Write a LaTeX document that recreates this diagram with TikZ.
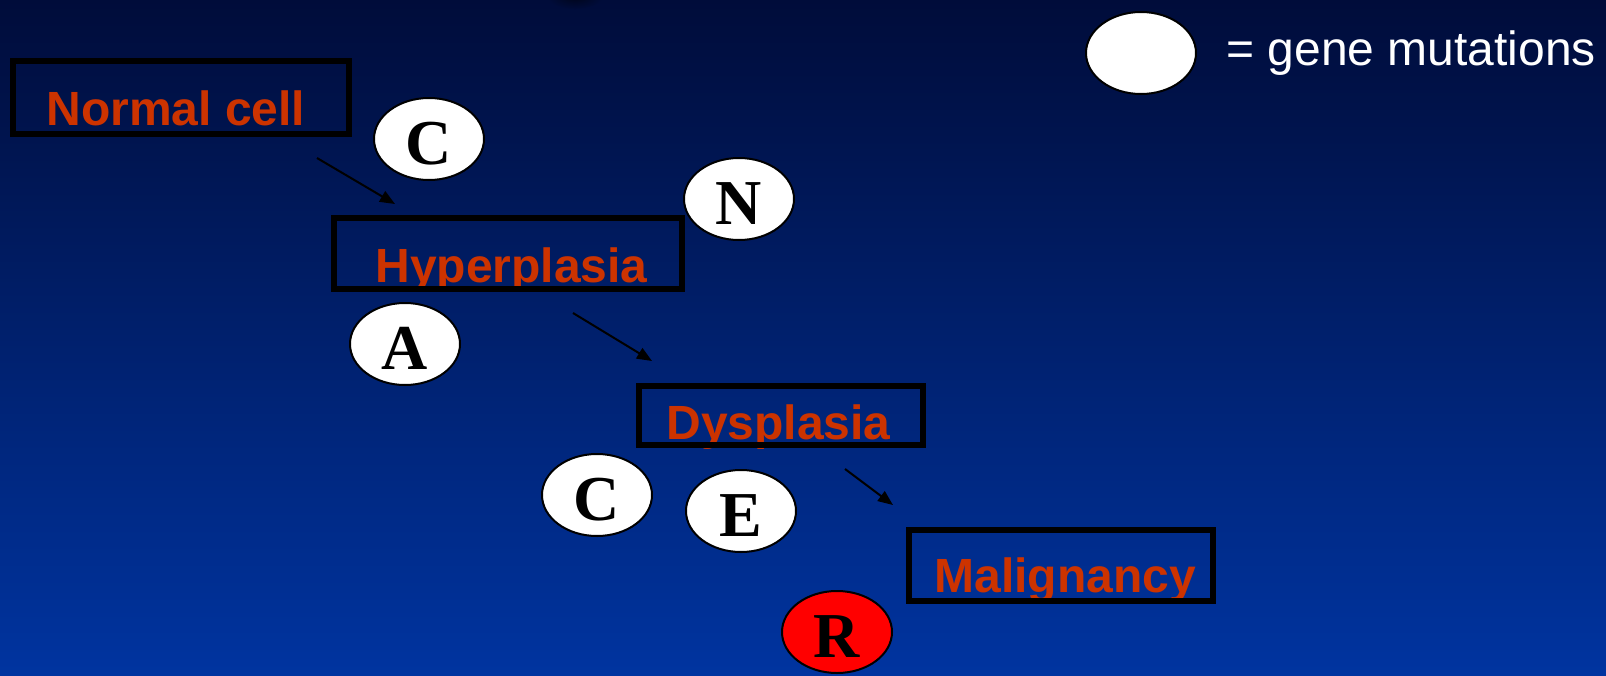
\documentclass[tikz,border=0pt]{standalone}
\usepackage{fontspec}
\setmainfont{Liberation Sans}
\newfontfamily\letterfont{Liberation Serif}
\usetikzlibrary{shapes.geometric,arrows.meta,positioning}
\definecolor{bgtop}{RGB}{0,12,58}
\definecolor{bgmid}{RGB}{0,38,125}
\definecolor{bgbot}{RGB}{0,52,160}
\definecolor{stagered}{RGB}{204,51,0}
\begin{document}
\begin{tikzpicture}[x=0.5pt,y=-0.5pt,
  stagebox/.style={draw=black,line width=3pt,inner sep=0pt},
  stagetext/.style={anchor=base west,inner sep=0pt,text=stagered,font=\bfseries\fontsize{24}{28}\selectfont},
  mut/.style={ellipse,draw=black,fill=white,line width=1pt,minimum width=55pt,minimum height=41pt,
    inner sep=0pt,text height=25.5pt,text depth=0pt,font=\letterfont\bfseries\fontsize{32}{32}\selectfont},
  link/.style={line width=1pt,-{Triangle[length=7.5pt,width=6pt]}}]
  \shade[top color=bgtop,middle color=bgmid,bottom color=bgbot] (0,0) rectangle (1606,675);
  \useasboundingbox (0,0) rectangle (1606,675);
  \shade[inner color=black!55!bgtop,outer color=bgtop] (575,-4) ellipse (28 and 13);

  % stages
  \node[stagetext] (normtxt) at (46,125) {Normal cell};
  \node[stagetext] (hypertxt) at (375,282) {Hyperplasia};
  \node[stagetext] (dystxt) at (666,439) {Dysplasia};
  \node[stagetext] (maligtxt) at (934,592) {Malignancy};
  \node[stagebox,minimum width=168pt,minimum height=36.5pt] (norm) at (181,97.5) {};
  \node[stagebox,minimum width=174pt,minimum height=35.5pt] (hyper) at (508,253.5) {};
  \node[stagebox,minimum width=142pt,minimum height=29.5pt] (dys) at (781,415.5) {};
  \node[stagebox,minimum width=152pt,minimum height=35.5pt] (malig) at (1061,565.5) {};

  % mutations
  \node[mut] (c1) at (429,139) {C};
  \node[mut] (n) at (739,199) {N};
  \node[mut] (a) at (405,344) {A};
  \node[mut] (c2) at (597,495) {C};
  \node[mut] (e) at (741,511) {E};
  \node[mut,fill=red] (r) at (837,632) {R};

  % key
  \node[mut] (key) at (1141,53) {};
  \node[right=14.5pt of key,inner sep=0pt,text=white,font=\fontsize{24}{28}\selectfont] (keytxt) {= gene mutations};

  \coordinate (n2h-a) at (317,158); \coordinate (n2h-b) at (395,204);
  \coordinate (h2d-a) at (573,313); \coordinate (h2d-b) at (652,361);
  \coordinate (d2m-a) at (845,469); \coordinate (d2m-b) at (893,505);
  \draw[link] (n2h-a) -- (n2h-b);
  \draw[link] (h2d-a) -- (h2d-b);
  \draw[link] (d2m-a) -- (d2m-b);
\end{tikzpicture}
\end{document}
